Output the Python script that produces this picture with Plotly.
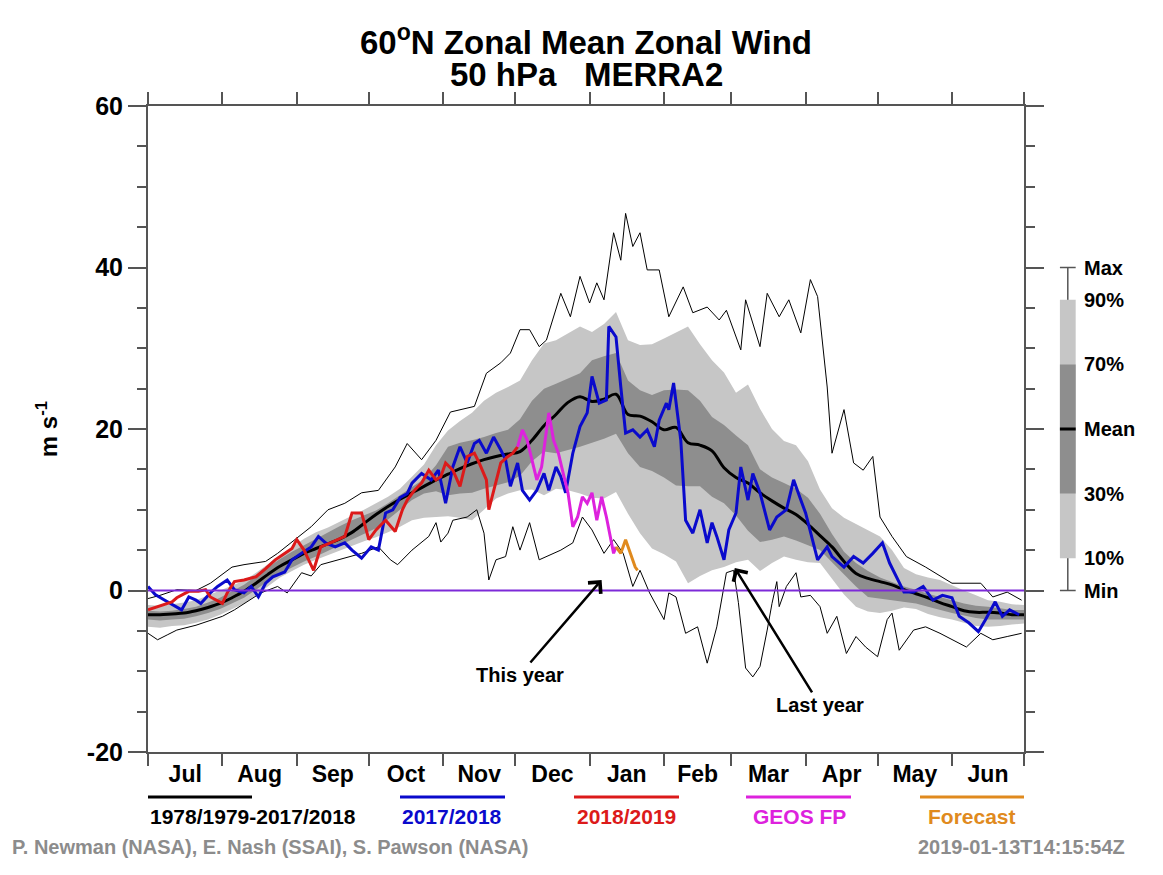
"""
60N zonal mean zonal wind, 50 hPa, MERRA2 climatology vs. recent winters
"""

import plotly.graph_objects as go

# ── Data (day index 0 = 1 Jul) ─────────────────────────────────────────────
MONTHS      = ["Jul", "Aug", "Sep", "Oct", "Nov", "Dec",
               "Jan", "Feb", "Mar", "Apr", "May", "Jun"]
MONTH_START = [0, 31, 62, 92, 123, 153, 184, 215, 243, 274, 304, 335, 365]
Y_TICKS     = [-20, 0, 20, 40, 60]

clim_days = list(range(0, 366, 5))

clim_mean = [-3.0, -3.0, -2.9, -2.8, -2.5, -2.1, -1.6, -0.9, -0.1, 0.9,
             2.0, 3.0, 3.8, 4.6, 5.2, 5.8, 6.4, 7.2, 8.3, 9.4,
             10.4, 11.3, 12.1, 12.9, 13.7, 14.4, 15.1, 15.7, 16.2, 16.6,
             16.9, 17.2, 18.6, 20.4, 21.8, 23.3, 24.0, 23.4, 23.7, 24.3,
             21.8, 21.6, 20.9, 19.9, 20.2, 18.3, 18.0, 17.3, 15.2, 14.0,
             13.3, 12.1, 11.1, 10.2, 9.4, 8.2, 6.8, 5.4, 3.6, 2.1,
             1.5, 1.1, 0.7, 0.1, -0.4, -0.9, -1.5, -2.0, -2.5, -2.7,
             -2.7, -2.8, -3.0, -3.0]

clim_p90 = [-1.8, -1.9, -1.7, -1.5, -1.2, -0.6, 0.0, 0.6, 1.2, 2.2,
            3.3, 4.4, 5.4, 6.4, 7.2, 7.8, 8.5, 9.2, 10.0, 10.8,
            11.6, 12.6, 14.1, 15.6, 18.0, 19.8, 21.0, 22.0, 23.5, 24.5,
            25.2, 26.0, 28.5, 30.6, 31.0, 31.8, 32.7, 32.0, 33.0, 34.5,
            31.0, 30.4, 30.5, 31.2, 32.0, 32.7, 30.5, 28.5, 27.0, 24.5,
            25.5, 22.5, 20.0, 18.5, 18.0, 16.0, 12.5, 10.2, 9.0, 8.2,
            7.5, 6.7, 5.0, 2.8, 2.0, 1.6, 1.3, 0.6, 0.0, -0.6,
            -1.2, -1.4, -1.7, -1.8]

clim_p70 = [-2.5, -2.6, -2.5, -2.3, -2.0, -1.5, -0.9, -0.1, 0.7, 1.8,
            2.9, 3.9, 4.8, 5.6, 6.5, 7.3, 8.0, 8.7, 9.3, 9.9,
            10.8, 11.8, 12.7, 13.8, 15.5, 17.8, 18.3, 18.6, 19.0, 19.5,
            19.9, 21.2, 23.5, 25.0, 25.6, 26.2, 26.9, 28.5, 29.0, 29.4,
            26.0, 24.8, 24.2, 24.8, 24.9, 24.8, 23.5, 21.5, 20.5, 19.2,
            18.0, 15.0, 14.0, 13.3, 12.6, 11.5, 9.5, 7.0, 4.8, 3.4,
            2.4, 1.6, 1.0, 0.5, 0.1, -0.4, -0.8, -1.2, -1.6, -1.9,
            -2.0, -2.2, -2.4, -2.4]

clim_p30 = [-3.6, -3.7, -3.6, -3.5, -3.2, -2.8, -2.3, -1.6, -0.9, 0.1,
            1.2, 2.1, 2.9, 3.6, 4.2, 4.9, 5.6, 6.3, 7.0, 7.7,
            8.8, 10.0, 11.2, 12.0, 12.3, 11.8, 12.0, 12.1, 12.6, 13.0,
            13.4, 14.2, 16.0, 17.2, 17.0, 17.4, 17.8, 18.3, 18.8, 19.4,
            17.0, 15.3, 14.8, 14.0, 13.0, 12.9, 12.9, 11.6, 10.8, 9.3,
            7.4, 6.0, 6.3, 6.7, 6.2, 5.6, 5.0, 3.5, 2.0, 0.5,
            -0.8, -1.0, -1.2, -1.4, -1.6, -2.0, -2.4, -2.8, -3.1, -3.4,
            -3.6, -3.6, -3.6, -3.6]

clim_p10 = [-4.5, -4.6, -4.4, -4.3, -4.0, -3.6, -3.0, -2.3, -1.6, -0.6,
            0.5, 1.6, 2.4, 3.2, 3.8, 4.4, 5.0, 5.6, 6.1, 6.6,
            7.2, 7.9, 8.7, 9.0, 9.1, 9.2, 9.0, 8.7, 10.0, 11.4,
            12.0, 12.4, 12.5, 11.8, 12.6, 12.4, 12.0, 11.5, 11.4, 12.2,
            9.5, 7.1, 5.2, 4.5, 3.6, 0.9, 1.8, 2.5, 2.9, 3.5,
            3.8, 2.4, 3.4, 4.2, 3.8, 3.5, 3.4, 1.5, -0.5, -2.0,
            -2.6, -2.8, -2.5, -2.1, -2.3, -2.9, -3.3, -3.6, -4.0, -4.4,
            -4.5, -4.4, -4.2, -4.1]

max_days = [0, 5, 12, 20, 26, 35, 40, 49, 54, 61, 68, 75, 82, 89, 96,
            103, 108, 114, 120, 126, 130, 136, 141, 147, 151, 155, 159,
            163, 166, 172, 176, 180, 184, 187, 190, 194, 197, 199, 202,
            205, 208, 213, 217, 223, 227, 233, 238, 241, 247, 249, 255,
            258, 263, 267, 272, 276, 279, 283, 285, 290, 294, 298, 302,
            305, 310, 316, 324, 335, 347, 352, 358, 364]
max_vals = [-1.0, -0.6, 0.1, 0.0, 0.9, 2.9, 3.2, 3.6, 4.6, 6.3, 7.9, 10.0,
            10.8, 12.1, 12.4, 15.3, 18.2, 16.2, 18.6, 22.1, 22.4, 22.8,
            26.9, 28.2, 29.4, 32.3, 32.3, 30.2, 31.0, 36.8, 33.9, 38.9,
            35.6, 38.1, 36.0, 44.3, 40.9, 46.7, 42.6, 44.3, 39.7, 39.7,
            33.9, 37.6, 34.4, 35.1, 33.5, 34.7, 29.8, 36.0, 30.2, 36.8,
            33.9, 36.0, 31.9, 38.5, 36.4, 25.2, 17.0, 22.4, 15.8, 14.9,
            16.6, 9.1, 6.7, 4.2, 2.9, 0.9, 0.9, -0.8, -0.2, -1.2]

min_days = [0, 4, 8, 12, 20, 26, 31, 36, 40, 47, 54, 58, 64, 68, 72, 79,
            89, 96, 101, 104, 110, 117, 120, 122, 125, 127, 133, 137, 140,
            142, 145, 149, 152, 155, 159, 163, 166, 172, 177, 181, 185,
            190, 194, 198, 202, 205, 209, 215, 217, 220, 224, 229, 233,
            237, 241, 244, 246, 249, 252, 255, 258, 260, 262, 263, 266,
            270, 272, 276, 280, 283, 287, 291, 295, 299, 304, 308, 310,
            313, 319, 324, 330, 335, 341, 347, 352, 358, 364]
min_vals = [-5.3, -6.1, -5.5, -4.9, -4.3, -3.7, -3.2, -2.4, -1.6, -0.3,
            0.5, -0.3, 2.2, 1.8, 3.2, 3.8, 4.6, 5.4, 3.8, 3.2, 5.0, 6.7,
            8.4, 6.0, 7.1, 8.7, 9.1, 10.0, 7.1, 1.3, 3.8, 4.2, 7.9, 5.0,
            8.4, 3.8, 4.2, 5.0, 5.9, 9.1, 7.5, 4.6, 6.3, 4.6, 0.5, 2.5,
            -0.3, -3.6, -0.3, -0.8, -5.3, -4.5, -9.0, -4.5, 2.2, 2.5,
            -1.5, -9.6, -10.7, -9.4, -4.9, -1.6, 1.1, -2.0, 0.5, 2.2,
            -0.8, -0.6, -2.0, -5.3, -3.2, -7.8, -5.7, -7.0, -8.2, -3.6,
            -2.8, -7.4, -4.9, -4.5, -5.3, -6.1, -7.0, -5.3, -6.1, -5.7,
            -5.3]

y1718_days = [0, 3, 7, 12, 14, 17, 20, 22, 26, 29, 33, 36, 40, 43, 46, 49,
              52, 57, 60, 64, 68, 71, 74, 78, 82, 85, 89, 93, 96, 99, 102,
              105, 108, 110, 114, 118, 121, 124, 127, 130, 133, 136, 138,
              141, 144, 147, 149, 151, 154, 156, 159, 162, 165, 167, 170,
              172, 174, 177, 180, 183, 185, 188, 191, 192, 195, 197, 199,
              202, 205, 208, 211, 213, 216, 217, 219, 222, 224, 227, 230,
              233, 235, 237, 240, 242, 245, 247, 250, 252, 255, 259, 262,
              266, 269, 272, 274, 279, 283, 285, 290, 294, 298, 302, 306,
              309, 312, 315, 319, 323, 327, 331, 335, 338, 342, 346, 349,
              353, 356, 359, 363]
y1718_vals = [0.5, -0.5, -1.2, -2.0, -2.4, -0.8, -1.2, -1.6, -0.3, 0.5,
              1.3, 0.1, -0.3, 0.5, -0.8, 0.9, 1.7, 2.3, 3.8, 4.6, 5.4, 6.7,
              5.9, 5.4, 5.9, 5.0, 4.0, 5.4, 5.0, 9.6, 10.0, 11.5, 12.0,
              13.3, 14.5, 13.7, 14.9, 10.8, 15.3, 17.8, 15.8, 18.2, 18.6,
              17.0, 19.0, 17.4, 16.2, 12.9, 15.8, 12.4, 11.2, 12.4, 14.5,
              12.4, 15.3, 14.1, 12.1, 17.0, 20.3, 22.0, 26.5, 23.2, 23.6,
              32.7, 31.4, 25.2, 19.5, 19.9, 19.0, 19.9, 17.8, 21.1, 23.2,
              22.4, 25.7, 18.6, 8.7, 7.1, 10.0, 5.9, 8.4, 6.7, 3.8, 7.5,
              9.6, 15.3, 11.2, 14.5, 12.1, 7.5, 9.1, 10.0, 13.7, 11.2, 9.6,
              3.8, 5.4, 4.2, 2.9, 4.2, 3.4, 4.6, 5.9, 3.4, 1.7, -0.2, -0.2,
              0.5, -1.2, -0.6, -0.9, -3.2, -4.0, -5.1, -3.6, -1.4, -3.2,
              -2.4, -3.0]

y1819_days = [0, 6, 10, 12, 17, 21, 24, 26, 31, 33, 36, 40, 45, 49, 53,
              56, 60, 62, 65, 69, 72, 76, 79, 82, 85, 89, 92, 95, 99, 103,
              106, 108, 111, 114, 117, 120, 122, 124, 127, 130, 133, 136,
              138, 141, 142, 145, 147, 150, 152, 154]
y1819_vals = [-2.4, -1.8, -1.4, -0.9, -0.1, -0.1, 0.1, -0.8, -1.6, -0.3,
              1.1, 1.3, 1.7, 2.7, 3.8, 4.4, 5.2, 6.3, 5.0, 2.5, 5.4, 5.9,
              6.3, 6.7, 9.6, 9.6, 6.3, 7.5, 8.7, 7.3, 10.0, 11.2, 12.4,
              13.3, 14.9, 13.7, 14.1, 15.8, 14.9, 12.9, 16.6, 17.0, 15.8,
              13.7, 10.0, 13.3, 15.8, 16.6, 17.0, 17.8]

geos_days = [154, 156, 158, 160, 162, 164, 166, 167, 169, 171, 173, 175,
             177, 179, 181, 183, 185, 187, 189, 191, 194, 195]
geos_vals = [17.8, 19.9, 18.6, 16.2, 13.7, 15.3, 19.5, 22.0, 18.6, 17.0,
             14.5, 12.1, 7.9, 9.1, 11.6, 10.8, 12.1, 8.7, 11.6, 9.1, 4.6,
             5.4]

fcst_days = [195, 197, 199, 201, 203, 204]
fcst_vals = [5.4, 4.6, 6.3, 4.6, 2.9, 2.5]

# ── Palette ────────────────────────────────────────────────────────────────
C_LIGHT  = "#C6C6C6"
C_DARK   = "#8E8E8E"
C_BLUE   = "#0A0ACC"
C_RED    = "#DC1A1A"
C_MAG    = "#DD22DD"
C_ORANGE = "#E08A1E"
C_PURPLE = "#7D2AD8"
C_AXIS   = "#555555"
C_CREDIT = "#8C8C8C"
FONT     = "Liberation Sans, Arial, sans-serif"

# plot area in pixels (reference): x 148..1024, y 106..752
def px_x(p):
    return (p - 148) / 876.0

def px_y(p):
    return (752 - p) / 646.0

def val_y(v):
    return (v + 20) / 80.0

fig = go.Figure()

# ── Climatology bands ──────────────────────────────────────────────────────
fig.add_trace(go.Scatter(x=clim_days, y=clim_p10, mode="lines",
                         line=dict(width=0), hoverinfo="skip"))
fig.add_trace(go.Scatter(x=clim_days, y=clim_p90, mode="lines",
                         line=dict(width=0), fill="tonexty",
                         fillcolor=C_LIGHT, hoverinfo="skip"))
fig.add_trace(go.Scatter(x=clim_days, y=clim_p30, mode="lines",
                         line=dict(width=0), hoverinfo="skip"))
fig.add_trace(go.Scatter(x=clim_days, y=clim_p70, mode="lines",
                         line=dict(width=0), fill="tonexty",
                         fillcolor=C_DARK, hoverinfo="skip"))

# ── Min / max and mean ─────────────────────────────────────────────────────
fig.add_trace(go.Scatter(x=max_days, y=max_vals, mode="lines",
                         line=dict(color="black", width=1)))
fig.add_trace(go.Scatter(x=min_days, y=min_vals, mode="lines",
                         line=dict(color="black", width=1)))
fig.add_trace(go.Scatter(x=clim_days, y=clim_mean, mode="lines",
                         line=dict(color="black", width=3, shape="spline")))

# ── Individual years ───────────────────────────────────────────────────────
fig.add_trace(go.Scatter(x=y1718_days, y=y1718_vals, mode="lines",
                         line=dict(color=C_BLUE, width=3)))
fig.add_trace(go.Scatter(x=y1819_days, y=y1819_vals, mode="lines",
                         line=dict(color=C_RED, width=3)))
fig.add_trace(go.Scatter(x=geos_days, y=geos_vals, mode="lines",
                         line=dict(color=C_MAG, width=3)))
fig.add_trace(go.Scatter(x=fcst_days, y=fcst_vals, mode="lines",
                         line=dict(color=C_ORANGE, width=3)))

# zero reference line, drawn over the bands
fig.add_shape(type="line", xref="x", yref="y", x0=0, x1=365, y0=0, y1=0,
              line=dict(color=C_PURPLE, width=2), layer="above")

# ── Axes ───────────────────────────────────────────────────────────────────
mids = [(a + b) / 2 for a, b in zip(MONTH_START[:-1], MONTH_START[1:])]
fig.update_xaxes(
    range=[0, 365], tickmode="array", tickvals=mids, ticktext=MONTHS,
    ticks="", ticklabelstandoff=0,
    tickfont=dict(size=23, family=FONT, color="black", weight="bold"),
    minor=dict(tickmode="array", tickvals=MONTH_START, ticks="outside",
               ticklen=12, tickwidth=1.5, tickcolor=C_AXIS),
    showgrid=False, zeroline=False,
    showline=True, linecolor=C_AXIS, linewidth=2, mirror="ticks",
)
fig.update_yaxes(
    range=[-20, 60], tickmode="array", tickvals=Y_TICKS,
    ticktext=[str(v) for v in Y_TICKS],
    ticks="outside", ticklen=18, tickwidth=1.5, tickcolor=C_AXIS,
    minor=dict(dtick=5, ticks="outside", ticklen=9, tickwidth=1.5,
               tickcolor=C_AXIS),
    tickfont=dict(size=25, family=FONT, color="black", weight="bold"),
    showgrid=False, zeroline=False,
    showline=True, linecolor=C_AXIS, linewidth=2, mirror="ticks",
    title=dict(text="m s<sup>-1</sup>", standoff=22,
               font=dict(size=24, family=FONT, color="black", weight="bold")),
)

# ── Right-hand percentile key ──────────────────────────────────────────────
kx0, kx1, kxm = 1.041, 1.059, 1.050
fig.add_shape(type="line", xref="paper", yref="paper",
              x0=kxm, x1=kxm, y0=val_y(0), y1=val_y(40),
              line=dict(color=C_AXIS, width=1.5))
for v in (0, 40):
    fig.add_shape(type="line", xref="paper", yref="paper",
                  x0=kx0, x1=kx1, y0=val_y(v), y1=val_y(v),
                  line=dict(color=C_AXIS, width=1.5))
fig.add_shape(type="rect", xref="paper", yref="paper",
              x0=kx0, x1=kx1, y0=val_y(4), y1=val_y(36),
              fillcolor=C_LIGHT, line=dict(width=0))
fig.add_shape(type="rect", xref="paper", yref="paper",
              x0=kx0, x1=kx1, y0=val_y(12), y1=val_y(28),
              fillcolor=C_DARK, line=dict(width=0))
fig.add_shape(type="line", xref="paper", yref="paper",
              x0=kx0, x1=kx1, y0=val_y(20), y1=val_y(20),
              line=dict(color="black", width=3))
for v, lab in [(40, "Max"), (36, "90%"), (28, "70%"), (20, "Mean"),
               (12, "30%"), (4, "10%"), (0, "Min")]:
    fig.add_annotation(x=1.066, y=val_y(v), xref="paper", yref="paper",
                       text=f"<b>{lab}</b>", showarrow=False,
                       xanchor="left", yanchor="middle",
                       font=dict(size=20, family=FONT, color="black"))

# ── Arrows ─────────────────────────────────────────────────────────────────
fig.add_annotation(x=189, y=1.3, ax=-82, ay=95, text="<b>This year</b>",
                   showarrow=True, arrowhead=4, arrowsize=1.3, arrowwidth=2.5,
                   arrowcolor="black",
                   font=dict(size=20, family=FONT, color="black"))
fig.add_annotation(x=244.5, y=2.8, ax=85, ay=137, text="<b>Last year</b>",
                   showarrow=True, arrowhead=4, arrowsize=1.3, arrowwidth=2.5,
                   arrowcolor="black",
                   font=dict(size=20, family=FONT, color="black"))

# ── Bottom key ─────────────────────────────────────────────────────────────
key = [
    (148, 252, "1978/1979-2017/2018", "black", 148, "left"),
    (400, 505, "2017/2018", C_BLUE, 452, "center"),
    (574, 679, "2018/2019", C_RED, 626, "center"),
    (746, 851, "GEOS FP", C_MAG, 799, "center"),
    (920, 1024, "Forecast", C_ORANGE, 972, "center"),
]
for x0, x1, lab, col, tx, anc in key:
    fig.add_shape(type="line", xref="paper", yref="paper",
                  x0=px_x(x0), x1=px_x(x1), y0=px_y(797), y1=px_y(797),
                  line=dict(color=col, width=3))
    fig.add_annotation(x=px_x(tx), y=px_y(816), xref="paper", yref="paper",
                       text=f"<b>{lab}</b>", showarrow=False, xanchor=anc,
                       yanchor="middle",
                       font=dict(size=21, family=FONT, color=col))

fig.add_annotation(x=px_x(10), y=px_y(847), xref="paper", yref="paper",
                   text="<b>P. Newman (NASA), E. Nash (SSAI), S. Pawson (NASA)</b>",
                   showarrow=False, xanchor="left", yanchor="middle",
                   font=dict(size=20, family=FONT, color=C_CREDIT))
fig.add_annotation(x=px_x(1127), y=px_y(847), xref="paper", yref="paper",
                   text="<b>2019-01-13T14:15:54Z</b>",
                   showarrow=False, xanchor="right", yanchor="middle",
                   font=dict(size=20, family=FONT, color=C_CREDIT))

# ── Title (two lines) ──────────────────────────────────────────────────────
for ty, txt in [(40, "60<sup>o</sup>N Zonal Mean Zonal Wind"),
                (74, "50 hPa\u00a0\u00a0\u00a0MERRA2")]:
    fig.add_annotation(x=0.5, y=px_y(ty), xref="paper", yref="paper",
                       text=f"<b>{txt}</b>", showarrow=False,
                       xanchor="center", yanchor="middle",
                       font=dict(size=33, family=FONT, color="black"))

# ── Layout ─────────────────────────────────────────────────────────────────
# page body adds ~8 px offset, margins are shifted to compensate
fig.update_layout(
    width=1163, height=875,
    margin=dict(l=140, r=147, t=98, b=131),
    paper_bgcolor="white", plot_bgcolor="white",
    showlegend=False,
    font=dict(family=FONT, color="black"),
)

fig.write_html("out.html")
